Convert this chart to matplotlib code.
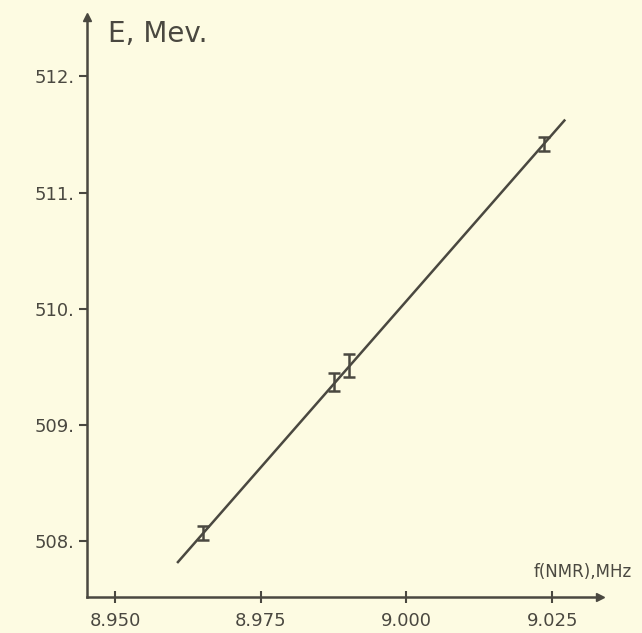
import matplotlib.pyplot as plt
import numpy as np

# NMR frequency (MHz) vs energy (MeV)
freq = [8.9651, 8.9875, 8.9902, 9.0236]
energy = [508.07, 509.37, 509.51, 511.42]
energy_err = [0.06, 0.08, 0.10, 0.06]

fit_freq = [8.9608, 9.0271]
fit_energy = [507.82, 511.62]

xticks = [8.950, 8.975, 9.000, 9.025]
xtick_labels = ['8.950', '8.975', '9.000', '9.025']
yticks = [508, 509, 510, 511, 512]
ytick_labels = ['508.', '509.', '510.', '511.', '512.']

bg = '#fdfbe2'
ink = '#4a4840'

fig = plt.figure(figsize=(6.42, 6.33), dpi=100, facecolor=bg)
ax = fig.add_axes([0.1355, 0.057, 0.799, 0.916], facecolor=bg)

ax.plot(fit_freq, fit_energy, color=ink, lw=1.8)
ax.errorbar(freq, energy, yerr=energy_err, fmt='none', ecolor=ink,
            elinewidth=1.8, capsize=4, capthick=1.8)

ax.set_xlim(8.9452, 9.0332)
ax.set_ylim(507.52, 512.51)

for s in ['top', 'right']:
    ax.spines[s].set_visible(False)
for s in ['left', 'bottom']:
    ax.spines[s].set_color(ink)
    ax.spines[s].set_linewidth(1.8)

# arrow heads at the ends of the axes
ax.plot(1, 0, '>', color=ink, ms=6, transform=ax.transAxes, clip_on=False)
ax.plot(0, 1, '^', color=ink, ms=6, transform=ax.transAxes, clip_on=False)

ax.set_xticks(xticks)
ax.set_xticklabels(xtick_labels)
ax.set_yticks(yticks)
ax.set_yticklabels(ytick_labels)
ax.tick_params(axis='x', direction='inout', length=9, width=1.5, color=ink,
               labelcolor=ink, labelsize=13, pad=6)
ax.tick_params(axis='y', direction='out', length=6, width=1.5, color=ink,
               labelcolor=ink, labelsize=13, pad=3)

ax.text(0.04, 0.995, 'E, Mev.', transform=ax.transAxes, fontsize=20,
        color=ink, va='top', ha='left')
ax.text(0.87, 0.028, 'f(NMR),MHz', transform=ax.transAxes, fontsize=12,
        color=ink, va='bottom', ha='left')

fig.savefig('out.png', dpi=100, facecolor=bg)
